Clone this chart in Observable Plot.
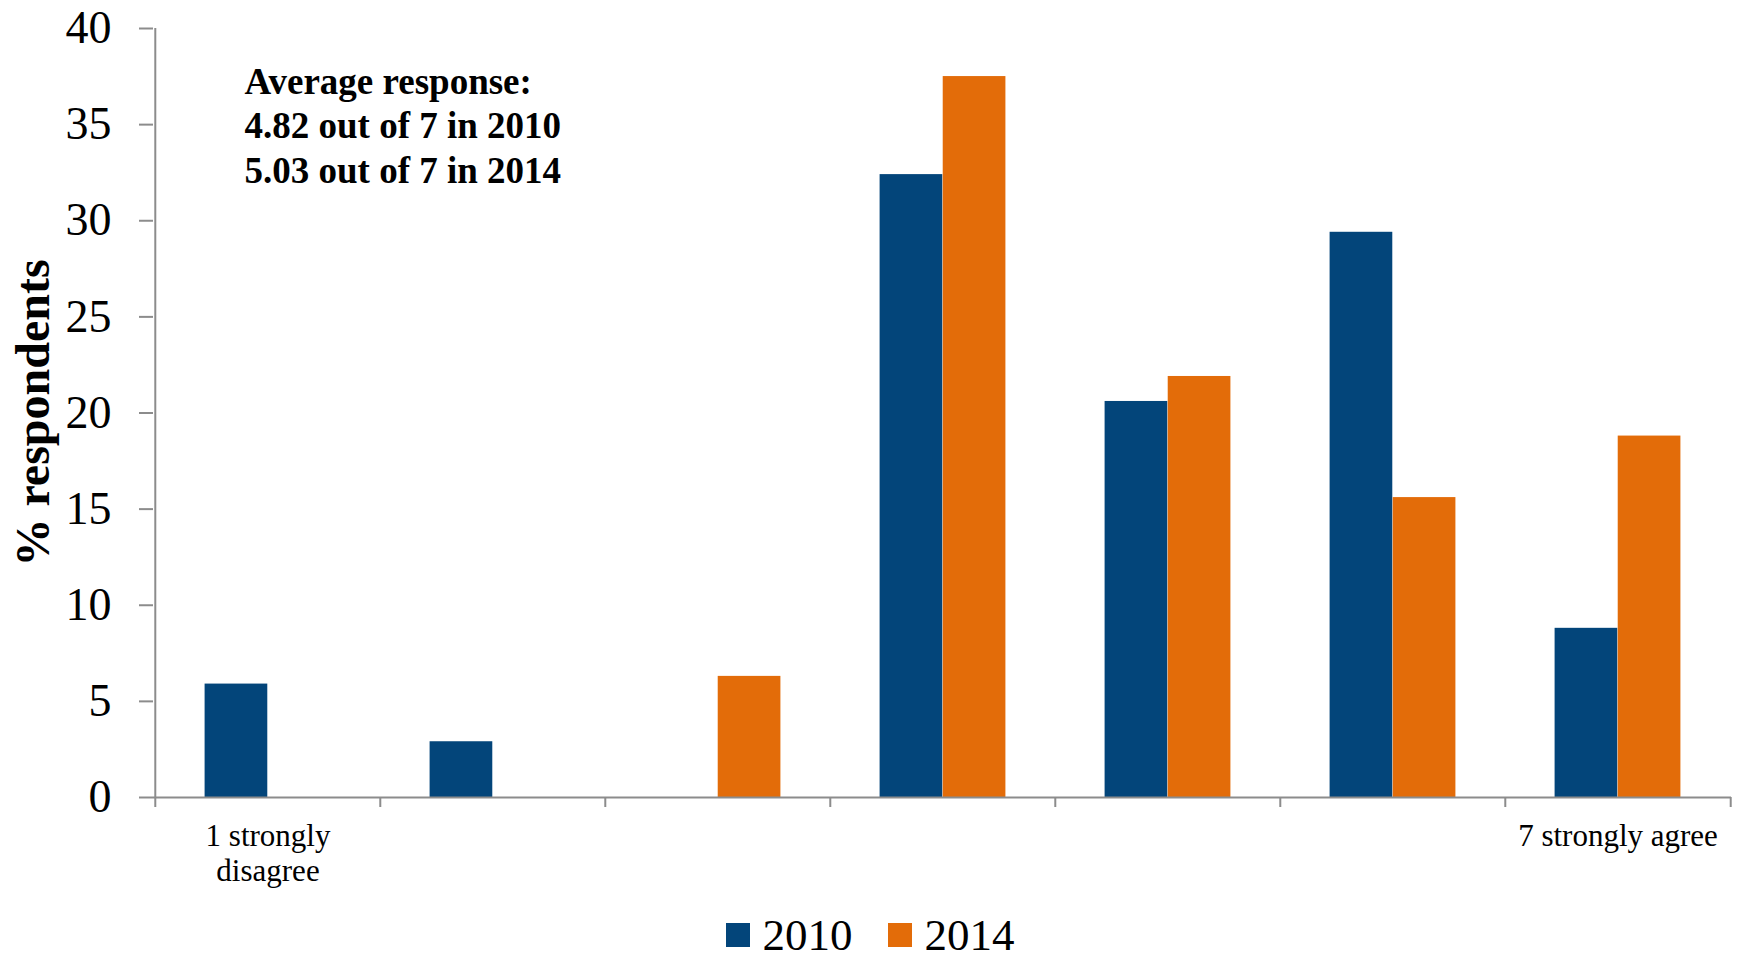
<!DOCTYPE html>
<html><head><meta charset="utf-8">
<script src="https://cdn.jsdelivr.net/npm/d3@7"></script>
<script src="https://cdn.jsdelivr.net/npm/@observablehq/plot@0.6"></script>
<style>
html,body{margin:0;padding:0;background:#fff;}
#chart svg{display:block;}
.legend{display:flex;justify-content:center;gap:35px;font-family:"Liberation Serif","Times New Roman",serif;font-size:45px;line-height:45px;padding-top:7px;height:46px;color:#000;}
.item{display:flex;align-items:center;gap:13px;}
.sw{width:24px;height:24px;display:inline-block;}
</style></head><body><div id="chart"></div><div id="legend" class="legend"></div>
<script>
const categories = [1, 2, 3, 4, 5, 6, 7];
const categoryLabels = ["1 strongly\ndisagree", "", "", "", "", "", "7 strongly agree"];
const years = ["2010", "2014"];
const values2010 = [5.9, 2.9, 0, 32.4, 20.6, 29.4, 8.8];
const values2014 = [0, 0, 6.3, 37.5, 21.9, 15.6, 18.8];
const averages = [4.82, 5.03];
const yTicks = [0, 5, 10, 15, 20, 25, 30, 35, 40];
const colors = ["#03457a", "#e36c09"];
const yLabel = "% respondents";

const W = 1740, H = 905, mL = 153, mR = 9, mT = 28, mB = 108;
const bw = (W - mL - mR) / categories.length;
const axisGray = "#8c8c8c";
const font = "'Liberation Serif','Times New Roman',serif";

const rows2010 = categories.map((c, i) => ({category: c, value: values2010[i]}));
const rows2014 = categories.map((c, i) => ({category: c, value: values2014[i]}));
const note = ["Average response:", ...years.map((y, i) => `${averages[i].toFixed(2)} out of 7 in ${y}`)].join("\n");

const chart = Plot.plot({
  width: W, height: H,
  marginLeft: mL, marginRight: mR, marginTop: mT, marginBottom: mB,
  style: {fontFamily: font, fontSize: "46px", color: "#000", background: "#fff"},
  x: {type: "band", domain: categories, padding: 0, axis: null},
  y: {domain: [0, 40], axis: null},
  marks: [
    Plot.barY(rows2010, {x: "category", y: "value", fill: colors[0], insetLeft: bw * 0.22, insetRight: bw * 0.5}),
    Plot.barY(rows2014, {x: "category", y: "value", fill: colors[1], insetLeft: bw * 0.5, insetRight: bw * 0.22}),
    Plot.ruleY([0], {stroke: axisGray, strokeWidth: 2}),
    Plot.ruleX([categories[0]], {x: d => d, y1: 0, y2: 40, dx: -bw / 2, stroke: axisGray, strokeWidth: 2}),
    Plot.axisY({ticks: yTicks, tickSize: 14, tickPadding: 28, stroke: axisGray, strokeWidth: 2, fill: "#000", fontSize: 46, label: null}),
    Plot.axisX({ticks: categories, tickSize: 10, dx: -bw / 2, fill: "none", stroke: axisGray, strokeWidth: 2, label: null}),
    Plot.axisX({ticks: [categories[categories.length - 1]], tickSize: 10, dx: bw / 2, fill: "none", stroke: axisGray, strokeWidth: 2, label: null}),
    Plot.axisX({ticks: categories, tickSize: 0, tickPadding: 23, tickFormat: d => categoryLabels[categories.indexOf(d)], fontSize: 31, lineHeight: 1.15, fill: "#000", label: null}),
    Plot.text([note], {text: d => d, frameAnchor: "top-left", dx: 91, dy: 34, lineAnchor: "top", textAnchor: "start", fontSize: 37, fontWeight: "bold", lineHeight: 1.2, fill: "#000"}),
    Plot.text([yLabel], {text: d => d, frameAnchor: "left", dx: -120, rotate: -90, textAnchor: "middle", lineAnchor: "middle", fontSize: 48, fontWeight: "bold", fill: "#000"})
  ]
});
document.getElementById("chart").appendChild(chart);

const legend = document.getElementById("legend");
years.forEach((y, i) => {
  const item = document.createElement("div");
  item.className = "item";
  const sw = document.createElement("span");
  sw.className = "sw";
  sw.style.background = colors[i];
  const t = document.createElement("span");
  t.textContent = y;
  item.appendChild(sw);
  item.appendChild(t);
  legend.appendChild(item);
});
</script></body></html>
